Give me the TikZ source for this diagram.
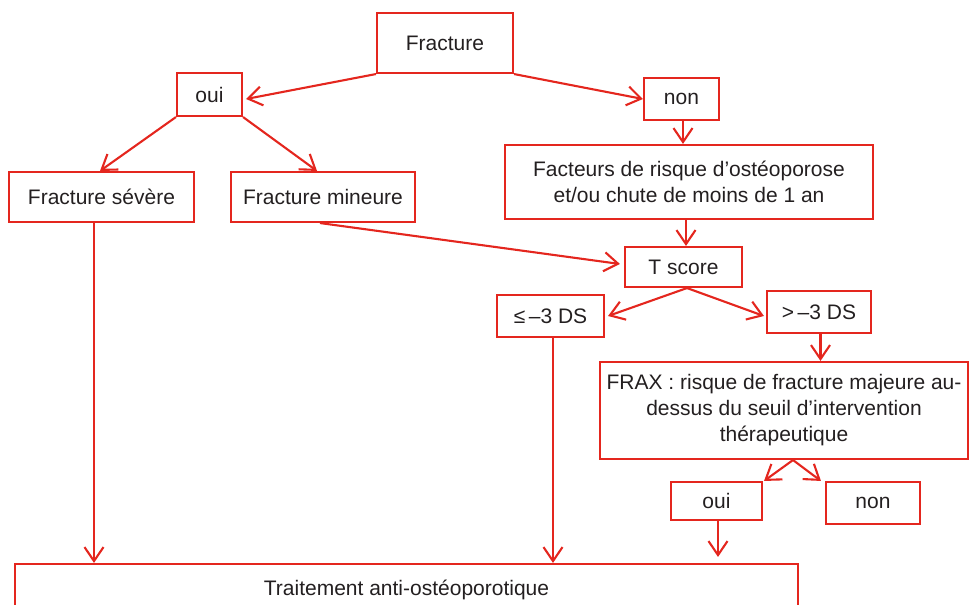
\documentclass[tikz,border=0pt]{standalone}
\usepackage{fontspec}
\setmainfont{Liberation Sans}
\usetikzlibrary{arrows.meta,calc}
\definecolor{fred}{RGB}{228,38,30}
\definecolor{ftext}{RGB}{35,31,32}
\begin{document}
\begin{tikzpicture}[x=1pt,y=-1pt,
  box/.style={draw=fred,line width=2.1pt,rectangle,inner sep=0pt,align=center,
    text=ftext,font=\fontsize{21}{26}\selectfont},
  arr/.style={draw=fred,line width=2.1pt,-{Straight Barb[length=14pt,width=19pt,line width=2.1pt]}}]
\useasboundingbox (0,0) rectangle (970,605);
\node[box,minimum width=136,minimum height=60] (frac) at (445,43) {Fracture};
\node[box,minimum width=65,minimum height=43] (oui1) at (209.5,94.5) {oui};
\node[box,minimum width=75,minimum height=42] (non1) at (681.5,99) {non};
\node[box,minimum width=185,minimum height=50] (sev) at (101.5,197) {Fracture sévère};
\node[box,minimum width=184,minimum height=50] (min) at (323,197) {Fracture mineure};
\node[box,minimum width=368,minimum height=74] (fact) at (689,182) {Facteurs de risque d’ostéoporose\\et/ou chute de moins de 1 an};
\node[box,minimum width=117,minimum height=40] (tscore) at (683.5,267) {T score};
\node[box,minimum width=107,minimum height=42] (le) at (550.5,316) {≤\,–3 DS};
\node[box,minimum width=104,minimum height=42] (gt) at (819,312) {>\,–3 DS};
\node[box,minimum width=368,minimum height=97] (frax) at (784,410.5) {FRAX : risque de fracture majeure au-\\dessus du seuil d’intervention\\thérapeutique};
\node[box,minimum width=91,minimum height=38] (oui2) at (716.5,501) {oui};
\node[box,minimum width=94,minimum height=42] (non2) at (873,503) {non};
\node[box,minimum width=783,minimum height=51] (trait) at (406.5,589.5) {Traitement anti-ostéoporotique};
%
\draw[arr] (frac.south west) -- ([shift={(3,4.5)}]oui1.east);
\draw[arr] (frac.south east) -- (non1.west);
\draw[arr] (oui1.south west) -- ([xshift=-1.5pt]sev.north);
\draw[arr] (oui1.south east) -- ([xshift=-6pt]min.north);
\draw[arr] ([xshift=1.5pt]non1.south) -- ([xshift=1.5pt]non1.south |- fact.north);
\draw[arr] ([xshift=2.5pt]tscore.north |- fact.south) -- ([xshift=2.5pt]tscore.north);
\draw[arr] ([xshift=-3pt]min.south) -- ([shift={(-4,-3)}]tscore.west);
\coordinate (tapex) at ([xshift=3.5pt]tscore.south);
\draw[arr] (tapex) -- ([xshift=3pt]le.east);
\draw[arr] (tapex) -- ([shift={(-2,4)}]gt.west);
\draw[arr] ([xshift=1.5pt]gt.south) -- ([xshift=1.5pt]gt.south |- frax.north);
\coordinate (fapex) at ([xshift=9pt]frax.south);
\draw[arr] (fapex) -- ([xshift=1pt]oui2.north east);
\draw[arr] (fapex) -- ([xshift=-4pt]non2.north west);
\draw[arr] ([xshift=1.5pt]oui2.south) -- ([shift={(1.5,-6)}]oui2.south |- trait.north);
\draw[arr] ([xshift=-7.5pt]sev.south) -- ([xshift=-7.5pt]sev.south |- trait.north);
\draw[arr] ([xshift=2.5pt]le.south) -- ([xshift=2.5pt]le.south |- trait.north);
\end{tikzpicture}
\end{document}
